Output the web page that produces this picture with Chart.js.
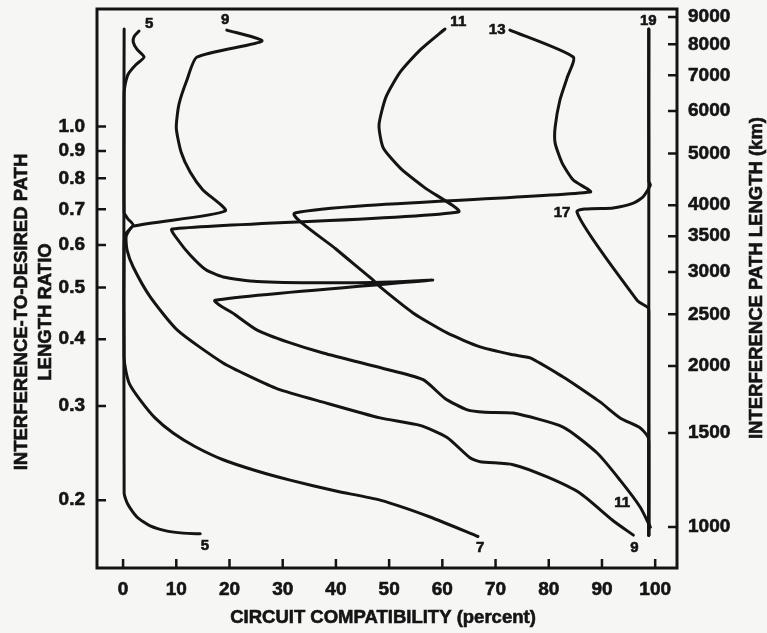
<!DOCTYPE html>
<html>
<head>
<meta charset="utf-8">
<title>Circuit compatibility vs path length ratio</title>
<script src="https://cdn.jsdelivr.net/npm/chart.js@4.4.1/dist/chart.umd.min.js"></script>
<style>
  html, body { margin: 0; padding: 0; background: #f6f6f4; }
  #wrap { width: 767px; height: 633px; }
</style>
</head>
<body>
<div id="wrap"><canvas id="compatChart" width="767" height="633"></canvas></div>
<script>
// --- Axis ticks ---
const xTicks = [0, 10, 20, 30, 40, 50, 60, 70, 80, 90, 100];
const ratioTicks = [0.2, 0.3, 0.4, 0.5, 0.6, 0.7, 0.8, 0.9, 1.0];
const pathTicks = [1000, 1500, 2000, 2500, 3000, 3500, 4000, 5000, 6000, 7000, 8000, 9000];

// ratio 1.0 corresponds to this interference path length
const kmPerRatio = 5614;
const ratioMin = 0.1493;
const ratioMax = 1.659;
const xMin = -4.9;
const xMax = 104.1;

// --- Curves: [compatibility %, path length ratio] ---
const curve5 = [[3.0,1.509],[2.1,1.475],[1.9,1.44],[2.6,1.395],[3.95,1.349],[2.4,1.305],[1.0,1.255],[0.4,1.2],[0.2,1.15],
  [0.2,0.206],[0.94,0.196],[2.6,0.186],[5.1,0.179],[8.3,0.175],[11.3,0.1735],[14.5,0.173]];
const curve7 = [[0.2,1.522],[0.2,0.69],[0.9,0.672],[1.9,0.654],[0.5,0.63],[0.2,0.6],[0.2,0.37],[0.5,0.35],[1.2,0.33],
  [3.2,0.308],[6,0.285],[9.4,0.267],[13.5,0.252],[18.8,0.238],[25,0.227],[31.4,0.218],[40,0.208],[48.3,0.2],
  [57.7,0.186],[66.7,0.171]];
const curve9 = [[19.5,1.515],[26.1,1.445],[13.9,1.349],[12.0,1.222],[10.5,1.1],[10.0,0.994],[10.9,0.896],[12.6,0.822],
  [15.0,0.761],[19.2,0.695],[1.9,0.651],[0.6,0.624],[0.75,0.587],[1.9,0.546],[5.1,0.48],[10.2,0.416],[18.8,0.361],
  [24,0.34],[29,0.323],[37.6,0.305],[48.3,0.285],[55.8,0.276],[60.9,0.262],[65.2,0.24],[67.1,0.236],[73.3,0.233],
  [79.7,0.221],[85.9,0.206],[92.1,0.183],[95.9,0.172]];
const curve11 = [[60.5,1.522],[55.8,1.39],[52.1,1.265],[49.4,1.135],[48.1,1.006],[48.9,0.912],[52.1,0.836],[56.8,0.767],
  [63.0,0.692],[9.2,0.643],[10.5,0.61],[12.6,0.575],[15.5,0.54],[18.8,0.523],[25.2,0.513],[37.6,0.51],[50.2,0.512],
  [58.1,0.516],[17.3,0.473],[21,0.445],[25.2,0.416],[31,0.395],[37.6,0.377],[50.2,0.35],[56.4,0.336],[60.5,0.31],
  [64.7,0.295],[68,0.292],[73.3,0.291],[82.7,0.274],[89.1,0.245],[93.4,0.218],[97.2,0.194],[99.1,0.178]];
const curve13 = [[72.7,1.515],[84.6,1.349],[83.5,1.238],[82.1,1.121],[81.2,0.998],[81.2,0.931],[82.5,0.855],[84.6,0.794],
  [87.8,0.754],[32.3,0.689],[40,0.59],[47.0,0.516],[48.3,0.501],[54.5,0.448],[60.9,0.411],[67.1,0.387],[73.3,0.374],
  [76.5,0.369],[82.7,0.34],[85.5,0.326],[89.7,0.305],[93.4,0.285],[97.2,0.273],[98.7,0.262],[98.8,0.248],[98.8,0.172]];
const curve17 = [[98.8,1.522],[98.8,0.79],[99.1,0.777],[97.7,0.738],[95.9,0.719],[92.1,0.704],[85.3,0.692],
  [96.6,0.473],[98.7,0.458],[98.8,0.45],[98.8,0.172]];
const curve19 = [[98.8,1.522],[98.8,0.172]];

// curve numbers written at the ends of the curves
const curveTags = ['5', '9', '11', '13', '19', '17', '11', '5', '7', '9'];
const tagX = [4.9, 19.2, 63.0, 70.3, 98.7, 82.5, 93.8, 15.4, 67.1, 96.1];
const tagRatio = [1.555, 1.58, 1.57, 1.515, 1.575, 0.689, 0.198, 0.164, 0.163, 0.163];

const ink = '#141414';
const fontFamily = "'Liberation Sans', Arial, Helvetica, sans-serif";

function toPoints(arr) {
  return arr.map(p => ({ x: p[0], y: p[1] }));
}

function curveDataset(label, arr) {
  return {
    label: label,
    data: toPoints(arr),
    showLine: true,
    borderColor: ink,
    borderWidth: 3,
    pointRadius: 0,
    tension: 0.2,
    borderJoinStyle: 'round',
    borderCapStyle: 'round',
    fill: false
  };
}

// no extra room for edge labels, the chart area is set by afterFit sizes
function noScalePadding(s) {
  s.paddingTop = 0;
  s.paddingBottom = 0;
  s.paddingLeft = 0;
  s.paddingRight = 0;
}

// heavy lettering: fill plus a thin stroke
function boldText(ctx, text, x, y) {
  ctx.fillText(text, x, y);
  ctx.strokeText(text, x, y);
}

// frame, inward tick marks, curve numbers and axis titles
const framePlugin = {
  id: 'framePlugin',
  beforeDraw(chart) {
    const ctx = chart.ctx;
    ctx.save();
    ctx.fillStyle = '#f6f6f4';
    ctx.fillRect(0, 0, chart.width, chart.height);
    ctx.restore();
  },
  afterDraw(chart) {
    const { ctx, chartArea: a, scales } = chart;
    const tickLen = 9;
    ctx.save();
    ctx.strokeStyle = ink;
    ctx.lineWidth = 3;
    ctx.strokeRect(a.left, a.top, a.right - a.left, a.bottom - a.top);

    ctx.lineWidth = 2.5;
    ctx.beginPath();
    xTicks.forEach(v => {
      const px = scales.x.getPixelForValue(v);
      ctx.moveTo(px, a.bottom);
      ctx.lineTo(px, a.bottom - tickLen);
    });
    ratioTicks.forEach(v => {
      const py = scales.y.getPixelForValue(v);
      ctx.moveTo(a.left, py);
      ctx.lineTo(a.left + tickLen, py);
    });
    pathTicks.forEach(v => {
      const py = scales.y1.getPixelForValue(v);
      ctx.moveTo(a.right, py);
      ctx.lineTo(a.right - tickLen, py);
    });
    ctx.stroke();

    ctx.fillStyle = ink;
    ctx.lineWidth = 0.6;
    ctx.font = 'bold 15px ' + fontFamily;
    ctx.textAlign = 'center';
    ctx.textBaseline = 'middle';
    curveTags.forEach((t, i) => {
      boldText(ctx, t, scales.x.getPixelForValue(tagX[i]), scales.y.getPixelForValue(tagRatio[i]));
    });

    ctx.font = 'bold 18.5px ' + fontFamily;
    boldText(ctx, 'CIRCUIT COMPATIBILITY (percent)', 383, 618);

    ctx.save();
    ctx.translate(22, 312);
    ctx.rotate(-Math.PI / 2);
    boldText(ctx, 'INTERFERENCE-TO-DESIRED PATH', 0, 0);
    boldText(ctx, 'LENGTH RATIO', 0, 24);
    ctx.restore();

    ctx.save();
    ctx.translate(757, 278);
    ctx.rotate(-Math.PI / 2);
    boldText(ctx, 'INTERFERENCE PATH LENGTH (km)', 0, 0);
    ctx.restore();

    ctx.restore();
  }
};

const tickFont = { family: fontFamily, size: 19, weight: 'bold' };

new Chart(document.getElementById('compatChart'), {
  type: 'scatter',
  data: {
    datasets: [
      curveDataset('5', curve5),
      curveDataset('7', curve7),
      curveDataset('9', curve9),
      curveDataset('11', curve11),
      curveDataset('13', curve13),
      curveDataset('17', curve17),
      curveDataset('19', curve19)
    ]
  },
  options: {
    responsive: false,
    animation: false,
    devicePixelRatio: 1,
    layout: { padding: { top: 9, left: 0, right: 0, bottom: 0 }, autoPadding: false },
    plugins: { legend: { display: false }, tooltip: { enabled: false } },
    scales: {
      x: {
        type: 'linear',
        min: xMin,
        max: xMax,
        grid: { display: false, drawTicks: false },
        border: { display: false },
        afterBuildTicks: s => { s.ticks = xTicks.map(v => ({ value: v })); },
        afterFit: s => { s.height = 65; noScalePadding(s); },
        ticks: { color: ink, font: tickFont, padding: 10, autoSkip: false, maxRotation: 0,
          textStrokeColor: ink, textStrokeWidth: 0.6, callback: v => String(v) }
      },
      y: {
        type: 'logarithmic',
        position: 'left',
        min: ratioMin,
        max: ratioMax,
        grid: { display: false, drawTicks: false },
        border: { display: false },
        afterBuildTicks: s => { s.ticks = ratioTicks.map(v => ({ value: v })); },
        afterFit: s => { s.width = 97; noScalePadding(s); },
        ticks: { color: ink, font: tickFont, padding: 12, autoSkip: false,
          textStrokeColor: ink, textStrokeWidth: 0.6, callback: v => Number(v).toFixed(1) }
      },
      y1: {
        type: 'logarithmic',
        position: 'right',
        min: ratioMin * kmPerRatio,
        max: ratioMax * kmPerRatio,
        grid: { display: false, drawTicks: false },
        border: { display: false },
        afterBuildTicks: s => { s.ticks = pathTicks.map(v => ({ value: v })); },
        afterFit: s => { s.width = 90; noScalePadding(s); },
        ticks: { color: ink, font: tickFont, padding: 11, autoSkip: false,
          textStrokeColor: ink, textStrokeWidth: 0.6, callback: v => String(v) }
      }
    }
  },
  plugins: [framePlugin]
});
</script>
</body>
</html>
